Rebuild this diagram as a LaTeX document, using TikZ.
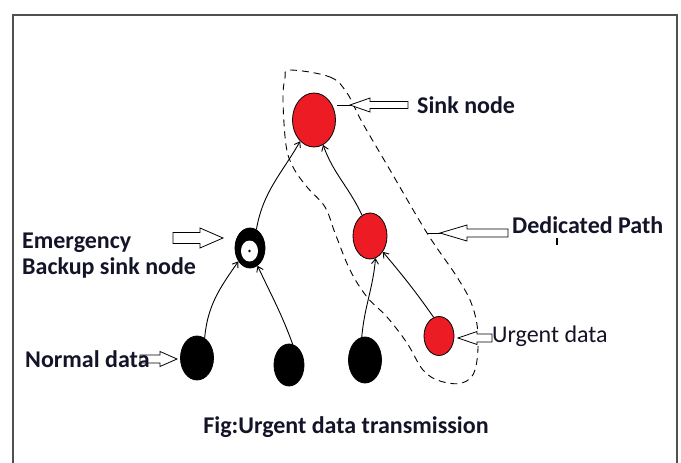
\documentclass[tikz,border=0pt]{standalone}
\usepackage{fontspec}
\setmainfont{Carlito}
\usetikzlibrary{arrows.meta,shapes.geometric}
\definecolor{pred}{RGB}{237,28,36}
\definecolor{framegray}{RGB}{80,80,80}
\definecolor{txt}{RGB}{20,20,40}
\tikzset{
  nd/.style={ellipse, draw=black, line width=0.8pt, inner sep=0pt},
  rednd/.style={nd, fill=pred},
  blknd/.style={nd, fill=black},
  link/.style={line width=0.9pt, -{Straight Barb[length=5pt,width=7pt]}},
  lbl/.style={font=\fontsize{24}{28}\selectfont\bfseries, text=txt, inner sep=0pt, anchor=base west},
  lblr/.style={font=\fontsize{24}{28}\selectfont, text=txt, inner sep=0pt, anchor=base west},
  blk/.style={draw=black, fill=white, line width=0.8pt, line join=miter},
  region/.style={draw=black, dash pattern=on 7pt off 5pt, line width=0.9pt},
}
\newcommand{\myblk}[7]{%
  \draw[blk] (#1,#2) -- ({#1+#3*#4},{#2-#6}) -- ({#1+#3*#4},{#2-#7}) -- ({#1+#3*#5},{#2-#7})
    -- ({#1+#3*#5},{#2+#7}) -- ({#1+#3*#4},{#2+#7}) -- ({#1+#3*#4},{#2+#6}) -- cycle;}
\begin{document}
\begin{tikzpicture}[x=1pt,y=-1pt]
\useasboundingbox[fill=white] (0,0) rectangle (681,463);
\draw[framegray, line width=1.5pt] (13,470) -- (13,15) -- (677,15) -- (677,470);

% dedicated path region
\draw[region] plot[smooth cycle, tension=0.6] coordinates {(290,70) (330,77) (347,93) (362,122) (390,170) (427,233) (457,277) (472,305) (478,335) (475,370) (462,383) (440,381) (423,370) (407,343) (387,317) (367,297) (350,270) (335,233) (325,207) (307,187) (293,167) (286,145) (283,100) (285,78)};

% nodes
\node[rednd, minimum width=43pt, minimum height=54pt] (sink) at (314,120) {};
\node[blknd, minimum width=30pt, minimum height=40pt] (emg) at (250,248) {};
\node[ellipse, fill=white, minimum width=17pt, minimum height=21pt, inner sep=0pt] (emgin) at (249.5,251) {};
\fill (emgin.center) circle (1.3pt);
\node[rednd, minimum width=34pt, minimum height=46pt] (mid) at (370,236) {};
\node[rednd, minimum width=30pt, minimum height=39pt] (urg) at (439,336) {};
\node[blknd, minimum width=33pt, minimum height=44pt] (n1) at (197,358) {};
\node[blknd, minimum width=30pt, minimum height=42pt] (n2) at (289,365) {};
\node[blknd, minimum width=33pt, minimum height=46pt] (n3) at (365,360) {};

% links
\draw[link] (emg.71) to[out=80,in=240] (sink.237);
\draw[link] (mid.111) to[out=115,in=-70] (sink.290);
\draw[link] (n1.69) to[out=85,in=235] (emg.229);
\draw[link] (n2.80) to[out=110,in=-65] (emg.293);
\draw[link] (n3.98) to[out=85,in=-95] (mid.284);
\draw[link] (urg.106) to[out=125,in=-50] (mid.309);

% label arrows
\coordinate (sinkp) at (337,105);
\draw[line width=0.8pt] (sinkp) -- (360,105);
\myblk{350}{105}{1}{20}{58}{7}{3.5}
\myblk{223}{238}{-1}{23}{50}{10}{5.5}
\coordinate (dedp) at (427,233);
\draw[line width=0.8pt] (dedp) -- (446,233);
\myblk{440}{233}{1}{27}{68}{8}{4}
\myblk{458}{338}{1}{19}{34}{6.5}{4}
\myblk{177}{359}{-1}{17}{37}{7.5}{4}
\draw[line width=1.4pt] (557,238) -- (557,245);

% labels
\node[lbl] (tsink) at (417,113) {Sink node};
\node[lbl] (tded) at (512,233) {Dedicated Path};
\node[lblr] (turg) at (492,342) {Urgent data};
\node[lbl] (temg) at (22,248) {Emergency};
\node[lbl] (tbak) at (22,274) {Backup sink node};
\node[lbl] (tnorm) at (25,367) {Normal data};
\node[lbl, anchor=base] (cap) at (346,433) {Fig:Urgent data transmission};
\end{tikzpicture}
\end{document}
